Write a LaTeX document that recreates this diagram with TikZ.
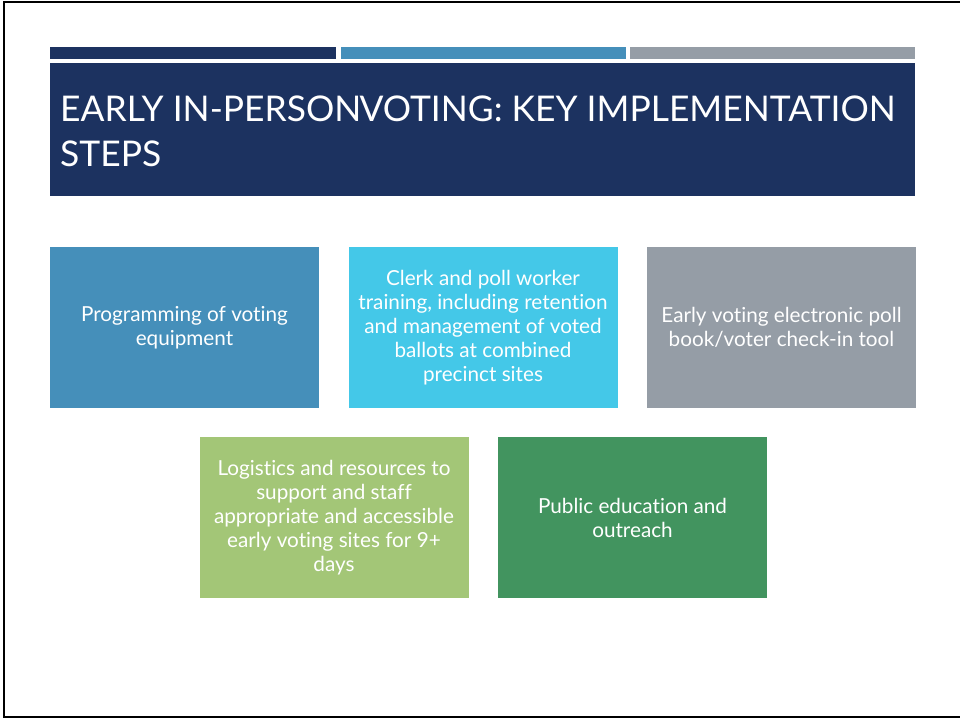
\documentclass[tikz,border=0pt]{standalone}
\usepackage{fontspec}
\setmainfont{Lato}[Ligatures=NoCommon]
\definecolor{navy}{RGB}{28,50,96}
\definecolor{steel}{RGB}{69,143,186}
\definecolor{slate}{RGB}{149,157,166}
\definecolor{sky}{RGB}{68,200,232}
\definecolor{leaf}{RGB}{163,198,119}
\definecolor{forest}{RGB}{66,148,95}
\tikzset{
  stepbox/.style={rectangle, inner sep=0pt, minimum width=269pt, minimum height=161pt,
    text=white, align=center, font=\fontsize{20.7}{24}\selectfont},
  titleline/.style={anchor=base west, inner sep=0pt, text=white,
    font=\fontsize{35.4}{44}\selectfont}
}
\begin{document}
\begin{tikzpicture}[x=1pt,y=-1pt]
\useasboundingbox (0,0) rectangle (960,719);
\fill[white] (0,0) rectangle (960,719);
% slide frame
\draw[line width=2.5pt] (960,2) -- (4,2) -- (4,717) -- (960,717);
% header stripes
\fill[navy]  (50,47) rectangle (336,59);
\fill[steel] (341,47) rectangle (626,59);
\fill[slate] (630,47) rectangle (915,59);
% title band
\fill[navy] (50,63) rectangle (915,196);
\node[titleline] (t1) at (60,122) {EARLY IN-PERSON\kern-2pt VOTING: KEY IMPLEMENTATION};
\node[titleline] (t2) at (60,167) {STEPS};
% step boxes
\node[stepbox, fill=steel]  (b1) at (184.5,327.5) {Programming of voting\\equipment};
\node[stepbox, fill=sky]    (b2) at (483,327.5) {Clerk and poll worker\\training, including retention\\and management of voted\\ballots at combined\\precinct sites};
\node[stepbox, fill=slate]  (b3) at (781.5,327.5) {Early voting electronic poll\\book/voter check-in tool};
\node[stepbox, fill=leaf]   (b4) at (334,517.5) {Logistics and resources to\\support and staff\\appropriate and accessible\\early voting sites for 9+\\days};
\node[stepbox, fill=forest] (b5) at (632.5,517.5) {Public education and\\outreach};
\end{tikzpicture}
\end{document}
